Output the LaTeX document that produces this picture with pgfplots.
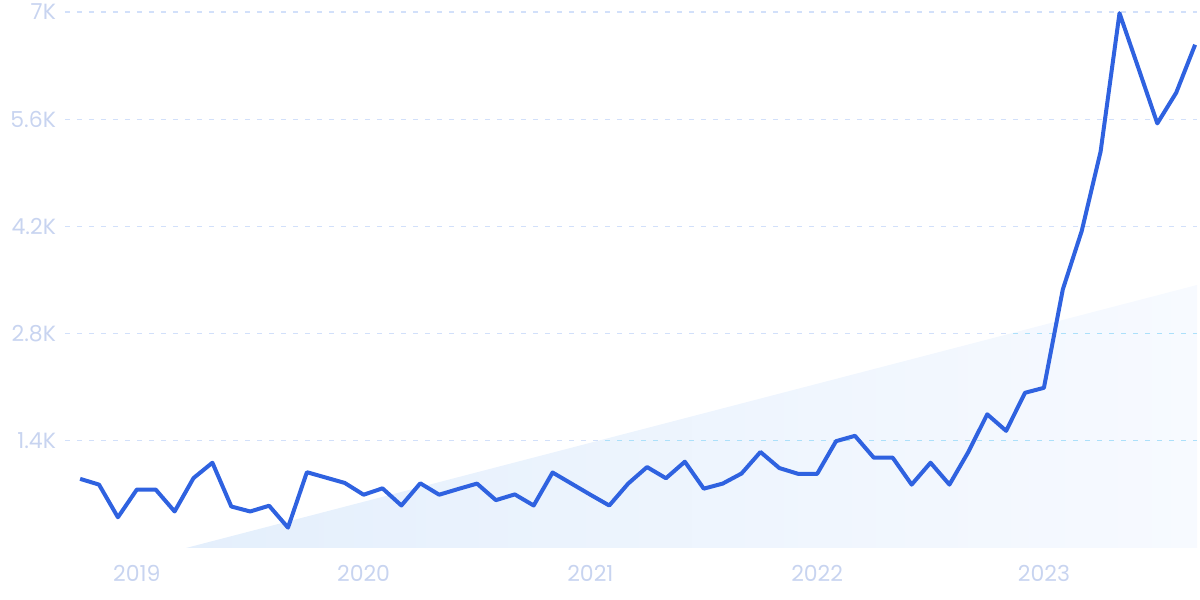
\documentclass[border=0pt]{standalone}
\usepackage{fontspec}
\setmainfont{Poppins}
\usepackage{pgfplots}
\pgfplotsset{compat=1.18}
\definecolor{lineblue}{RGB}{47,98,224}
\definecolor{labelcol}{RGB}{200,212,240}
\definecolor{gridcol}{RGB}{210,224,250}
\definecolor{gridcyan}{RGB}{172,224,250}
\definecolor{areaA}{RGB}{228,239,252}
\definecolor{areaB}{RGB}{247,250,255}

\pgfplotstableread{
x y
0 903
1 828
2 401
3 763
4 763
5 477
6 913
7 1114
8 542
9 477
10 552
11 266
12 990
13 920
14 850
15 696
16 779
17 555
18 845
19 696
20 770
21 841
22 625
23 700
24 555
25 986
26 841
27 696
28 555
29 841
30 1057
31 911
32 1127
33 775
34 841
35 973
36 1254
37 1044
38 968
39 968
40 1395
41 1465
42 1179
43 1179
44 828
45 1114
46 828
47 1254
48 1746
49 1530
50 2027
51 2092
52 3377
53 4140
54 5178
55 6985
56 6267
57 5545
58 5946
59 6573
}\interest

\begin{document}
\begin{tikzpicture}
\begin{axis}[
  at={(0,0)}, anchor=south west,
  scale only axis,
  width=566pt, height=268pt,
  xmin=-0.8, xmax=59.1,
  ymin=0, ymax=7000,
  axis line style={draw=none},
  clip=false,
  ytick={1400,2800,4200,5600,7000},
  yticklabels={1.4K,2.8K,4.2K,5.6K,7K},
  xtick={3,15,27,39,51},
  xticklabels={2019,2020,2021,2022,2023},
  major tick length=0pt,
  ymajorgrids=true,
  grid style={gridcol, line width=0.6pt, dash pattern=on 2.5pt off 3.5pt},
  tick label style={font=\fontsize{11}{13}\selectfont, text=labelcol},
  /pgf/number format/assume math mode=true,
  yticklabel style={xshift=-1pt},
  xticklabel style={yshift=-5pt},
]
\addplot[draw=none, left color=areaA, right color=areaB] coordinates {(5.6,0) (59.1,3435) (59.1,0)} -- cycle;
\begin{scope}
  \clip (axis cs:5.6,0) -- (axis cs:59.1,3435) -- (axis cs:59.1,0) -- cycle;
  \draw[gridcyan, line width=0.6pt, dash pattern=on 2.5pt off 3.5pt] (axis cs:-0.8,1400) -- (axis cs:59.1,1400);
  \draw[gridcyan, line width=0.6pt, dash pattern=on 2.5pt off 3.5pt] (axis cs:-0.8,2800) -- (axis cs:59.1,2800);
\end{scope}
\addplot[lineblue, line width=2pt, line join=round] table[x=x, y=y] {\interest};
\end{axis}
\pgfresetboundingbox
\path[use as bounding box] (-32.5pt,-26pt) rectangle (567.5pt,274pt);
\end{tikzpicture}
\end{document}
